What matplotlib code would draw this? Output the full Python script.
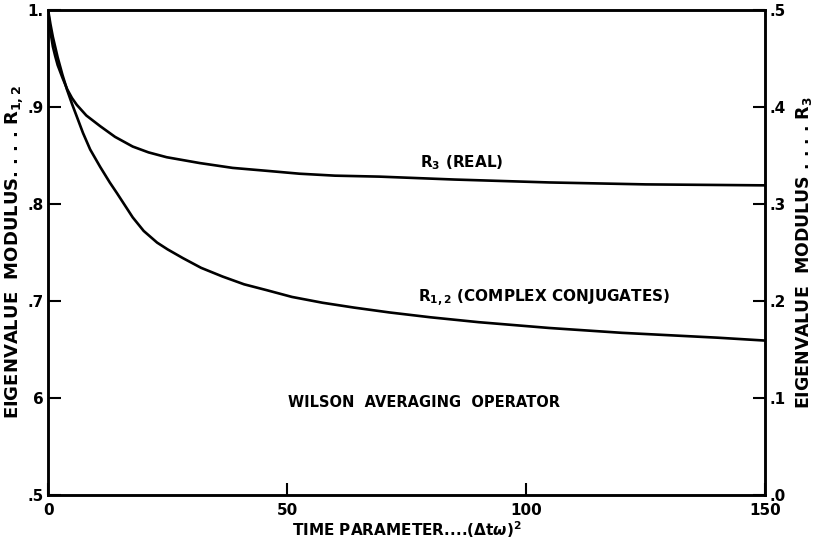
import matplotlib.pyplot as plt

# values
t_r12 = [0, 0.5, 1, 2, 3, 4, 5, 6, 7.3, 8.8, 10.9, 12.9, 14.4, 17.7, 20, 22.8, 25,
         28.2, 32, 36.5, 41, 45.7, 51, 57.4, 64, 71.4, 80, 90, 104.8, 120, 140, 150]
r12 = [1.0, 0.985, 0.972, 0.951, 0.933, 0.917, 0.903, 0.89, 0.873, 0.856, 0.838,
       0.822, 0.811, 0.786, 0.772, 0.76, 0.753, 0.744, 0.734, 0.725, 0.717, 0.711,
       0.704, 0.698, 0.693, 0.688, 0.683, 0.678, 0.672, 0.667, 0.662, 0.659]

t_r3 = [0, 0.3, 0.6, 1, 1.5, 2, 3, 4, 5, 6, 8, 10.9, 14, 17.7, 21, 24.8, 31.7,
        38.6, 45.7, 52.6, 60, 69.3, 85, 104.8, 125, 150]
r3 = [0.5, 0.485, 0.474, 0.462, 0.452, 0.443, 0.43, 0.418, 0.409, 0.402, 0.391,
      0.38, 0.369, 0.359, 0.353, 0.348, 0.342, 0.337, 0.334, 0.331, 0.329, 0.328,
      0.325, 0.322, 0.32, 0.319]

x_ticks = [0, 50, 100, 150]
x_labels = ["0", "50", "100", "150"]
left_ticks = [0.5, 0.6, 0.7, 0.8, 0.9, 1.0]
left_labels = [".5", "6", ".7", ".8", ".9", "1."]
right_ticks = [0.0, 0.1, 0.2, 0.3, 0.4, 0.5]
right_labels = [".0", ".1", ".2", ".3", ".4", ".5"]

plt.rcParams["font.family"] = "DejaVu Sans"
plt.rcParams["font.weight"] = "bold"

fig = plt.figure(figsize=(8.15, 5.42), dpi=100)
ax = fig.add_axes([0.059, 0.087, 0.88, 0.895])
ax2 = ax.twinx()

ax.plot(t_r12, r12, color="black", lw=1.9, solid_capstyle="butt")
ax2.plot(t_r3, r3, color="black", lw=1.9, solid_capstyle="butt")

ax.set_xlim(0, 150)
ax.set_ylim(0.5, 1.0)
ax2.set_ylim(0.0, 0.5)

ax.set_xticks(x_ticks, x_labels)
ax.set_yticks(left_ticks, left_labels)
ax2.set_yticks(right_ticks, right_labels)

for a in (ax, ax2):
    for sp in a.spines.values():
        sp.set_linewidth(1.8)
ax.tick_params(axis="y", direction="in", length=9, width=1.5, labelsize=11, pad=3)
ax.tick_params(axis="x", direction="in", length=9, width=1.5, labelsize=11, pad=6)
ax2.tick_params(axis="y", direction="in", length=9, width=1.5, labelsize=11, pad=3)

ax.set_xlabel(r"TIME PARAMETER....($\Delta$t$\omega$)$^2$", fontsize=11, fontweight="bold", labelpad=1)
ax.set_ylabel(r"EIGENVALUE  MODULUS. . . . R$_{1,2}$", fontsize=13, fontweight="bold", labelpad=2)
ax2.set_ylabel(r"EIGENVALUE  MODULUS . . . . R$_3$", fontsize=12.5, fontweight="bold", labelpad=6)

ax.text(77.8, 0.842, r"R$_3$ (REAL)", fontsize=11, fontweight="bold", va="center")
ax.text(77.4, 0.703, r"R$_{1,2}$ (COMPLEX CONJUGATES)", fontsize=11, fontweight="bold", va="center")
ax.text(50.2, 0.595, "WILSON  AVERAGING  OPERATOR", fontsize=10.5, fontweight="bold", va="center")

fig.savefig("out.png", dpi=100)
